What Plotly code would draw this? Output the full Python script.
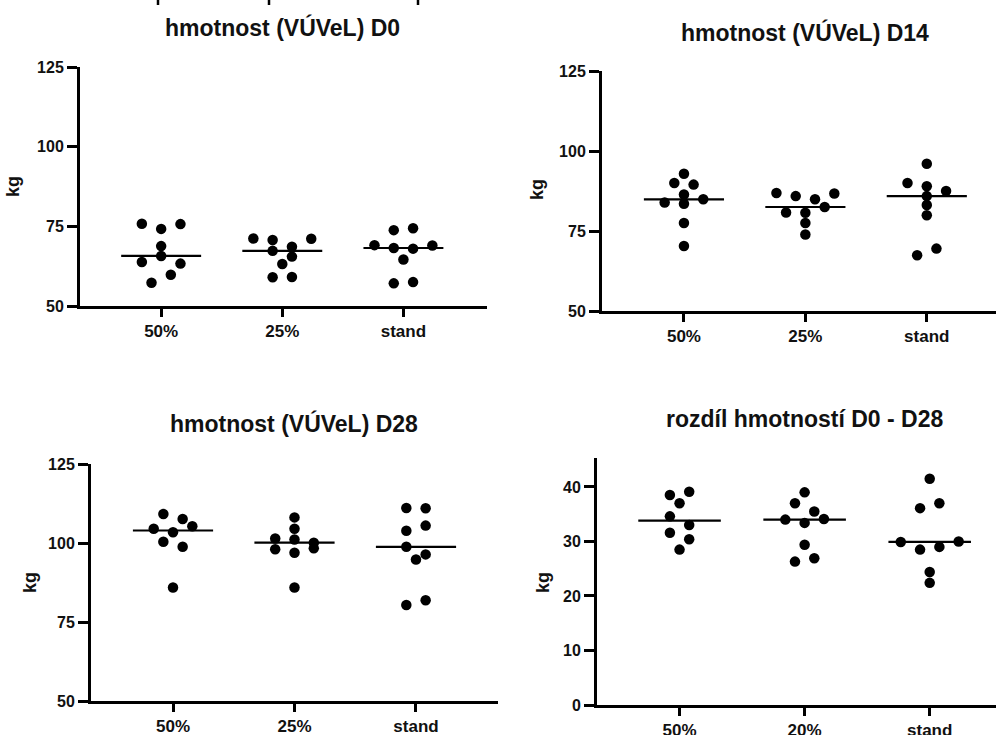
import numpy as np
import plotly.graph_objects as go

W, H = 996, 735

# ---------------- data ----------------
categories_main = ["50%", "25%", "stand"]
categories_diff = ["50%", "20%", "stand"]

d0_50 = [75.8, 74.2, 75.7, 68.8, 63.8, 65.7, 63.3, 57.3, 59.8]
d0_25 = [71.2, 70.7, 68.6, 71.1, 67.3, 65.5, 63.2, 59.0, 59.1]
d0_stand = [73.8, 74.4, 69.1, 68.2, 68.0, 69.0, 64.6, 57.1, 57.5]

d14_50 = [92.9, 90.0, 89.5, 83.9, 86.4, 84.9, 83.5, 77.5, 70.3]
d14_25 = [86.9, 85.9, 84.9, 86.7, 80.8, 80.7, 82.5, 77.5, 73.9]
d14_stand = [96.0, 90.0, 89.0, 87.5, 85.9, 83.1, 79.9, 67.4, 69.5]

d28_50 = [109.2, 107.6, 104.5, 103.4, 105.3, 100.4, 98.8, 85.9]
d28_25 = [108.1, 104.5, 101.4, 101.1, 100.1, 98.0, 96.9, 98.3, 85.9]
d28_stand = [111.1, 111.0, 103.9, 105.5, 98.8, 96.4, 94.8, 80.4, 81.9]

diff_50 = [38.5, 39.1, 37.0, 34.6, 33.0, 31.6, 30.4, 28.5]
diff_20 = [39.0, 37.0, 35.5, 34.0, 33.4, 34.1, 29.4, 26.3, 26.9]
diff_stand = [41.5, 36.1, 37.0, 29.9, 28.5, 29.0, 30.0, 24.4, 22.4]

titles = ["hmotnost (VÚVeL) D0", "hmotnost (VÚVeL) D14",
          "hmotnost (VÚVeL) D28", "rozdíl hmotností D0 - D28"]
y_label = "kg"
ticks_weight = [50, 75, 100, 125]
ticks_diff = [0, 10, 20, 30, 40]

# ---------------- layout spec (pixels) ----------------
panels = [
    dict(title=titles[0], cats=categories_main, groups=[d0_50, d0_25, d0_stand],
         xpx=(80, 487), ypx=(67, 306), xr=(-0.67, 2.69), yr=(50, 125),
         yt=ticks_weight, tpx=(282, 28), kpx=(13, 187)),
    dict(title=titles[1], cats=categories_main, groups=[d14_50, d14_25, d14_stand],
         xpx=(602, 996), ypx=(71, 311), xr=(-0.675, 2.57), yr=(50, 125),
         yt=ticks_weight, tpx=(805, 32), kpx=(537, 190)),
    dict(title=titles[2], cats=categories_main, groups=[d28_50, d28_25, d28_stand],
         xpx=(91, 498), ypx=(464, 701), xr=(-0.675, 2.675), yr=(50, 125),
         yt=ticks_weight, tpx=(294, 423), kpx=(30, 583)),
    dict(title=titles[3], cats=categories_diff, groups=[diff_50, diff_20, diff_stand],
         xpx=(597, 996), ypx=(458, 705), xr=(-0.66, 2.53), yr=(0, 45.3),
         yt=ticks_diff, tpx=(805, 419), kpx=(543, 583)),
]

# remnants of ticks of a cropped chart above (top edge), in pixels
top_remnant_px = [158, 269, 418]

FONT = "Liberation Sans, Arial, sans-serif"
STEP_PX = 19.3      # horizontal spacing between dots in a row
THRESH_PX = 8.85    # vertical closeness that puts dots into one row
HALF_LINE = 0.33    # half length of median line (category units)


def swarm_offsets(values, px_per_unit_y, step):
    vals = np.asarray(values, float)
    order = sorted(range(len(vals)), key=lambda i: (-vals[i], i))
    rows = []
    for i in order:
        if rows and (vals[rows[-1][0]] - vals[i]) * px_per_unit_y <= THRESH_PX:
            rows[-1].append(i)
        else:
            rows.append([i])
    off = np.zeros(len(vals))
    for r in rows:
        r = sorted(r)
        n = len(r)
        for k, i in enumerate(r):
            off[i] = (k - (n - 1) / 2) * step
    return off


fig = go.Figure()
annotations = []

for n, p in enumerate(panels, start=1):
    xa = "x" if n == 1 else f"x{n}"
    ya = "y" if n == 1 else f"y{n}"
    x0, x1 = p["xpx"]
    y0, y1 = p["ypx"]
    px_per_x = (x1 - x0) / (p["xr"][1] - p["xr"][0])
    px_per_y = (y1 - y0) / (p["yr"][1] - p["yr"][0])
    step = STEP_PX / px_per_x

    for gi, vals in enumerate(p["groups"]):
        off = swarm_offsets(vals, px_per_y, step)
        fig.add_trace(go.Scatter(
            x=gi + off, y=vals, mode="markers", xaxis=xa, yaxis=ya,
            marker=dict(color="black", size=10.5, line=dict(width=0)),
            hoverinfo="y", showlegend=False, cliponaxis=False))
        med = float(np.median(vals))
        fig.add_trace(go.Scatter(
            x=[gi - HALF_LINE, gi + HALF_LINE], y=[med, med], mode="lines",
            xaxis=xa, yaxis=ya, line=dict(color="black", width=2.2),
            hoverinfo="skip", showlegend=False))

    xkey = "xaxis" if n == 1 else f"xaxis{n}"
    ykey = "yaxis" if n == 1 else f"yaxis{n}"
    fig.update_layout({
        xkey: dict(domain=[x0 / W, x1 / W], range=list(p["xr"]), anchor=ya,
                   tickvals=[0, 1, 2], ticktext=p["cats"], showline=True,
                   linecolor="black", linewidth=3, ticks="outside", ticklen=8,
                   tickwidth=2.5, tickcolor="black", showgrid=False, zeroline=False,
                   tickfont=dict(family=FONT, size=17, color="#111", weight="bold"),
                   fixedrange=True, automargin=False),
        ykey: dict(domain=[1 - y1 / H, 1 - y0 / H], range=list(p["yr"]), anchor=xa,
                   tickvals=p["yt"], showline=True, linecolor="black", linewidth=3,
                   ticks="outside", ticklen=10, tickwidth=2.5, tickcolor="black",
                   showgrid=False, zeroline=False,
                   tickfont=dict(family=FONT, size=16, color="#111", weight="bold"),
                   fixedrange=True, automargin=False),
    })

    annotations.append(dict(
        text=p["title"], xref="paper", yref="paper",
        x=p["tpx"][0] / W, y=1 - p["tpx"][1] / H, xanchor="center", yanchor="middle",
        showarrow=False, font=dict(family=FONT, size=23, color="#111", weight="bold")))
    annotations.append(dict(
        text=y_label, xref="paper", yref="paper", textangle=-90,
        x=p["kpx"][0] / W, y=1 - p["kpx"][1] / H, xanchor="center", yanchor="middle",
        showarrow=False, font=dict(family=FONT, size=18, color="#111", weight="bold")))

shapes = [dict(type="line", xref="paper", yref="paper",
               x0=xp / W, x1=xp / W, y0=1.0, y1=1 - 5 / H,
               line=dict(color="black", width=2.5))
          for xp in top_remnant_px]

fig.update_layout(
    width=W, height=H,
    margin=dict(l=0, r=0, t=0, b=0, pad=0, autoexpand=False),
    paper_bgcolor="white", plot_bgcolor="white", showlegend=False,
    annotations=annotations, shapes=shapes,
)

fig.write_html(
    "out.html",
    config={"responsive": False, "displayModeBar": False},
    post_script="document.body.style.margin='0';document.body.style.overflow='hidden';",
)
